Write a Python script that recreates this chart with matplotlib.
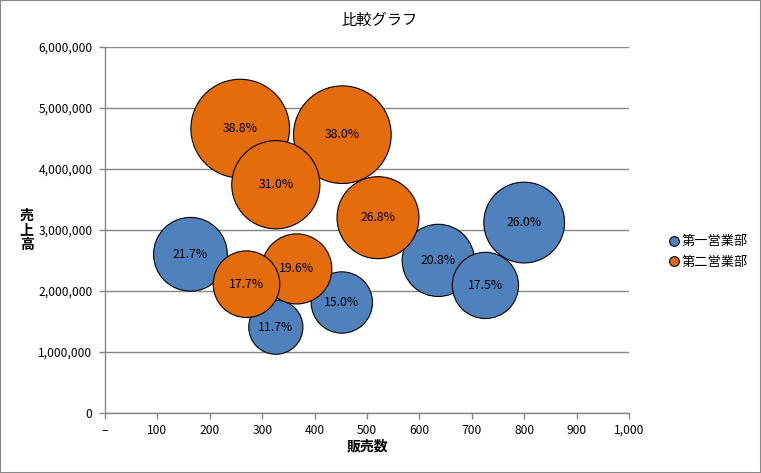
import numpy as np
import matplotlib.pyplot as plt
from matplotlib.ticker import FuncFormatter, MultipleLocator
from matplotlib.lines import Line2D
from matplotlib.patches import Rectangle

plt.rcParams['font.family'] = ['Noto Sans CJK JP', 'DejaVu Sans']

# 第一営業部
sales1_qty = [163, 326, 452, 636, 726, 800]
sales1_amt = [2600000, 1405000, 1810000, 2500000, 2090000, 3120000]
sales1_share = [21.7, 11.7, 15.0, 20.8, 17.5, 26.0]

# 第二営業部
sales2_qty = [258, 453, 326, 521, 366, 270]
sales2_amt = [4660000, 4560000, 3740000, 3200000, 2360000, 2110000]
sales2_share = [38.8, 38.0, 31.0, 26.8, 19.6, 17.7]

series = [
    ('第一営業部', sales1_qty, sales1_amt, sales1_share, '#4F81BD'),
    ('第二営業部', sales2_qty, sales2_amt, sales2_share, '#E46C0A'),
]

fig = plt.figure(figsize=(7.61, 4.73), dpi=100)
ax = fig.add_axes([0.138, 0.127, 0.6885, 0.774])

size_scale = 130  # marker area (pt^2) per percent
for k, (name, qty, amt, share, color) in enumerate(series):
    qty = np.array(qty)
    amt = np.array(amt)
    share = np.array(share)
    order = np.argsort(-share)  # larger bubbles first, smaller on top
    ax.scatter(qty[order], amt[order], s=share[order] * size_scale,
               c=color, edgecolors='black', linewidths=0.8, zorder=2 + k)
    for x, y, v in zip(qty, amt, share):
        ax.text(x, y, f'{v:.1f}%', ha='center', va='center',
                fontsize=8.8, color='black', zorder=10)

ax.set_xlim(0, 1000)
ax.set_ylim(0, 6000000)
ax.xaxis.set_major_locator(MultipleLocator(100))
ax.yaxis.set_major_locator(MultipleLocator(1000000))
ax.xaxis.set_major_formatter(FuncFormatter(lambda v, p: '–' if v == 0 else f'{int(v):,}'))
ax.yaxis.set_major_formatter(FuncFormatter(lambda v, p: f'{int(v):,}'))

ax.grid(axis='y', color='#868686', linewidth=1)
ax.set_axisbelow(True)
for s in ['top', 'right']:
    ax.spines[s].set_visible(False)
for s in ['left', 'bottom']:
    ax.spines[s].set_color('#868686')
    ax.spines[s].set_linewidth(1)
ax.tick_params(axis='both', colors='#868686', labelcolor='black', labelsize=8.7,
               length=4, width=1)
ax.tick_params(axis='x', pad=4)
ax.tick_params(axis='y', pad=5)

fig.text(0.499, 0.957, '比較グラフ', ha='center', va='center', fontsize=11)
fig.text(0.483, 0.057, '販売数', ha='center', va='center', fontsize=10, fontweight='bold')
fig.text(0.035, 0.513, '売\n上\n高', ha='center', va='center', fontsize=10,
         fontweight='bold', linespacing=1.05)

handles = [Line2D([0], [0], marker='o', linestyle='none', markersize=7,
                  markerfacecolor=c, markeredgecolor='black', markeredgewidth=0.8,
                  label=n) for n, _, _, _, c in series]
fig.legend(handles=handles, loc='center left', bbox_to_anchor=(0.862, 0.467),
           frameon=False, fontsize=9.5, handletextpad=0.05, labelspacing=0.55,
           handlelength=1.0)

fig.patches.append(Rectangle((0, 0), 1, 1, transform=fig.transFigure, fill=False,
                             edgecolor='#868686', linewidth=1.5))

plt.savefig('out.png', dpi=100)
plt.close()
